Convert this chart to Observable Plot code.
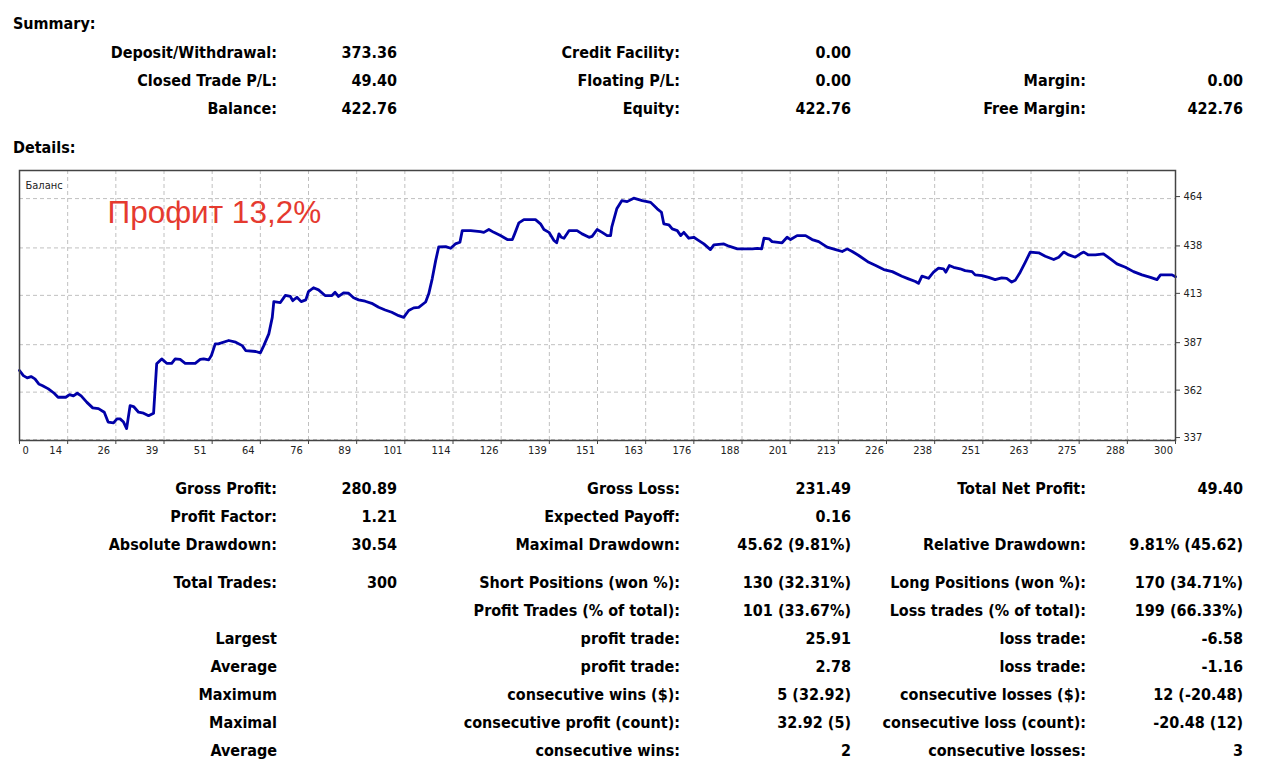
<!DOCTYPE html>
<html>
<head>
<meta charset="utf-8">
<script src="https://cdn.jsdelivr.net/npm/d3@7"></script>
<script src="https://cdn.jsdelivr.net/npm/@observablehq/plot@0.6"></script>
<style>
  html, body { margin: 0; padding: 0; background: #fff; }
  #page { position: relative; width: 1271px; height: 764px; overflow: hidden;
    font-family: "DejaVu Sans Condensed", "DejaVu Sans", sans-serif; font-stretch: condensed; color: #000; }
  .t { position: absolute; font-weight: bold; font-size: 16px; line-height: 20px; white-space: nowrap; }
  #chart { position: absolute; left: 0; top: 160px; }
</style>
</head>
<body>
<div id="page">
  <div id="chart"></div>
</div>
<script>
// ---- Balance curve (trade number, balance) ----
const tradeNo = [0,1,2,3,4,5,6,7.5,9,10,12,13,14,15,16,17.5,19,20.5,22,23,24.4,25.3,26.1,27,27.8,28.7,29.6,30.9,32.2,33.5,34.8,35.6,36.9,38.2,39.5,40.4,41.7,43,45.6,46.9,47.8,49.1,49.8,50.8,51.6,54.3,56.1,57.8,58.7,61.3,62.5,63.4,64.7,65.6,66,67.7,69,70.3,70.9,72,73.1,74.3,75,76.3,77.6,79.3,81.1,81.9,82.8,84.1,85.4,86.7,88,89.7,91.4,93.2,94.9,96.6,98.4,99.7,101,102.3,103.6,105.4,106.2,107.1,108,108.8,110.6,111.9,113.1,114.3,114.9,117.1,119.6,120.5,121.8,123.1,124.8,126.6,127.9,128.5,129.6,130.9,133.9,135.2,136.1,137.4,138.7,139.4,140,140.6,141.3,142.6,144.7,146,147.8,148.6,149.9,151.2,152.5,153.4,153.7,155,156.3,157.7,159.4,161.6,163.8,165.5,166.6,167.2,168.5,169.4,170.7,171.6,172.4,173.7,175,175.9,177.6,179.3,180.2,182.8,184.1,186.3,190.2,191.5,192.6,193.2,194.5,195.3,197.9,199.2,200.1,201.8,204,205.7,207.4,209.6,211.8,213.5,214.8,216.1,217.8,220.4,222.2,224.3,226.5,229,230.7,232.5,233.3,234.2,235.9,237.2,238.5,239.8,240.4,241.3,242.4,244.1,245.4,247.2,248,249.8,251.5,253.2,254.9,256.2,257.5,258.4,259.7,261,262.3,264.5,266.2,268.4,269.7,271,272.3,274,275.3,276.2,277.4,279.2,281.3,283.1,284.8,287,289.1,291.3,293.5,295.2,296.1,299.1,300];
const balance = [373.4,370.7,369.5,370.2,369.0,366.3,365.4,363.7,361.4,359.3,359.3,360.7,360.0,361.4,360.0,356.6,353.7,353.3,351.4,346.2,345.8,347.9,347.9,346.2,342.8,354.9,354.4,351.4,350.9,349.6,350.9,376.9,379.5,377.2,377.2,379.5,379.2,377.2,377.2,379.2,379.5,379.0,381.3,387.4,387.4,389.2,388.3,386.5,383.9,383.4,382.7,386.5,392.7,401.4,409.7,409.2,413.0,412.4,410.2,412.0,409.7,410.6,415.0,417.0,415.9,412.9,412.9,414.6,412.4,414.3,414.1,411.7,410.6,409.9,408.8,406.7,405.3,404.1,402.3,401.4,405.0,406.4,406.7,409.5,413.8,421.7,431.3,438.6,438.7,437.8,440.1,441.0,447.1,447.1,446.6,446.2,447.7,446.2,444.5,442.4,442.4,445.4,451.2,452.9,452.9,450.7,447.7,446.2,441.9,440.7,445.4,443.6,443.1,447.1,447.1,445.4,443.6,444.1,447.7,446.2,444.5,444.5,448.9,458.6,462.9,462.4,464.2,462.9,462.0,458.6,456.8,450.7,450.2,448.0,447.1,444.5,446.2,443.1,443.6,442.4,440.1,437.1,439.6,440.1,438.9,437.5,437.5,437.8,437.5,443.1,442.8,441.3,440.7,443.6,442.4,444.5,444.5,442.4,441.3,438.4,437.1,436.1,437.5,436.1,434.0,430.4,428.7,426.6,425.5,423.1,421.7,420.3,419.3,423.1,422.0,425.2,427.3,427.0,425.2,428.7,427.8,427.0,426.0,425.5,423.8,423.4,422.5,421.3,422.2,422.0,420.0,420.9,425.2,430.4,435.8,435.4,433.6,431.9,433.1,435.8,434.3,433.1,434.9,435.8,434.3,434.3,434.9,432.2,429.6,427.8,425.5,423.8,422.5,421.3,423.8,423.8,422.76];

// ---- axis tick labels ----
const xTickLabels = ["0","14","26","39","51","64","76","89","101","114","126","139","151","163","176","188","201","213","226","238","251","263","275","288","300"];
const xTickStep = 12.5;
const yTicks = [337, 362, 387, 413, 438, 464];
const seriesName = "Баланс";
const annotation = "Профит 13,2%";

// ---- report text ----
const summaryTitle = "Summary:";
const detailsTitle = "Details:";
const summaryRows = [
  ["Deposit/Withdrawal:", "373.36", "Credit Facility:", "0.00", "", ""],
  ["Closed Trade P/L:", "49.40", "Floating P/L:", "0.00", "Margin:", "0.00"],
  ["Balance:", "422.76", "Equity:", "422.76", "Free Margin:", "422.76"]
];
const detailRows = [
  ["Gross Profit:", "280.89", "Gross Loss:", "231.49", "Total Net Profit:", "49.40"],
  ["Profit Factor:", "1.21", "Expected Payoff:", "0.16", "", ""],
  ["Absolute Drawdown:", "30.54", "Maximal Drawdown:", "45.62 (9.81%)", "Relative Drawdown:", "9.81% (45.62)"],
  ["Total Trades:", "300", "Short Positions (won %):", "130 (32.31%)", "Long Positions (won %):", "170 (34.71%)"],
  ["", "", "Profit Trades (% of total):", "101 (33.67%)", "Loss trades (% of total):", "199 (66.33%)"],
  ["Largest", "", "profit trade:", "25.91", "loss trade:", "-6.58"],
  ["Average", "", "profit trade:", "2.78", "loss trade:", "-1.16"],
  ["Maximum", "", "consecutive wins ($):", "5 (32.92)", "consecutive losses ($):", "12 (-20.48)"],
  ["Maximal", "", "consecutive profit (count):", "32.92 (5)", "consecutive loss (count):", "-20.48 (12)"],
  ["Average", "", "consecutive wins:", "2", "consecutive losses:", "3"]
];

// ---- layout of the text blocks ----
const page = document.getElementById("page");
const colRight = [277, 397, 680, 851, 1086, 1243];
function addText(txt, opts) {
  const d = document.createElement("div");
  d.className = "t";
  d.textContent = txt;
  if (opts.left != null) d.style.left = opts.left + "px";
  if (opts.right != null) d.style.right = (1271 - opts.right) + "px";
  d.style.top = (opts.y - 9) + "px";
  page.appendChild(d);
}
addText(summaryTitle, {left: 13, y: 23});
addText(detailsTitle, {left: 13, y: 147});
const summaryY = [52, 80, 108];
summaryRows.forEach((row, r) => row.forEach((c, k) => { if (c) addText(c, {right: colRight[k], y: summaryY[r]}); }));
const detailY = [488, 516, 544, 582, 610, 638, 666, 694, 722, 750];
detailRows.forEach((row, r) => row.forEach((c, k) => { if (c) addText(c, {right: colRight[k], y: detailY[r]}); }));

// ---- chart ----
const data = tradeNo.map((t, i) => ({trade: t, balance: balance[i]}));
const gridPos = xTickLabels.map((_, k) => k * xTickStep);
const axisFont = "DejaVu Sans Condensed, DejaVu Sans, sans-serif";

const chart = Plot.plot({
  width: 1271,
  height: 305,
  marginLeft: 19,
  marginRight: 96,
  marginTop: 10,
  marginBottom: 25,
  style: {fontFamily: axisFont, fontSize: "11px", color: "#222", background: "transparent"},
  x: {domain: [0, 300], axis: null},
  y: {domain: [336.5, 478.8], axis: null},
  marks: [
    Plot.ruleX(gridPos.slice(1, -1), {stroke: "#c0c0c0", strokeDasharray: "4,3", strokeWidth: 1}),
    Plot.ruleY(yTicks, {stroke: "#c0c0c0", strokeDasharray: "4,3", strokeWidth: 1}),
    Plot.line(data, {x: "trade", y: "balance", stroke: "#0000a8", strokeWidth: 2.8, strokeLinejoin: "round"}),
    Plot.frame({stroke: "#444", strokeWidth: 1.5}),
    Plot.axisY(yTicks, {anchor: "right", label: null, tickSize: 4, tickPadding: 4, dy: -2, fontSize: 11, stroke: "#444", fill: "#222"}),
    Plot.axisX(gridPos, {anchor: "bottom", label: null, tickSize: 4, tickFormat: () => "", stroke: "#444"}),
    Plot.text(gridPos.slice(1), {x: d => d, text: d => xTickLabels[Math.round(d / xTickStep)], frameAnchor: "bottom", lineAnchor: "top", dy: 6, dx: -12, fontSize: 11, fill: "#222"}),
    Plot.text([xTickLabels[0]], {x: () => 0, text: d => d, frameAnchor: "bottom", lineAnchor: "top", dy: 6, dx: 3, textAnchor: "start", fontSize: 11, fill: "#222"}),
    Plot.text([seriesName], {frameAnchor: "top-left", textAnchor: "start", lineAnchor: "middle", dx: 6, dy: 15, fontSize: 11, fill: "#222"}),
    Plot.text([annotation], {frameAnchor: "top-left", textAnchor: "start", lineAnchor: "middle", dx: 88, dy: 42, fontSize: 31.5, fill: "#e53a2f", fontFamily: "Liberation Sans, Arial, sans-serif"})
  ]
});
document.getElementById("chart").appendChild(chart);
</script>
</body>
</html>
